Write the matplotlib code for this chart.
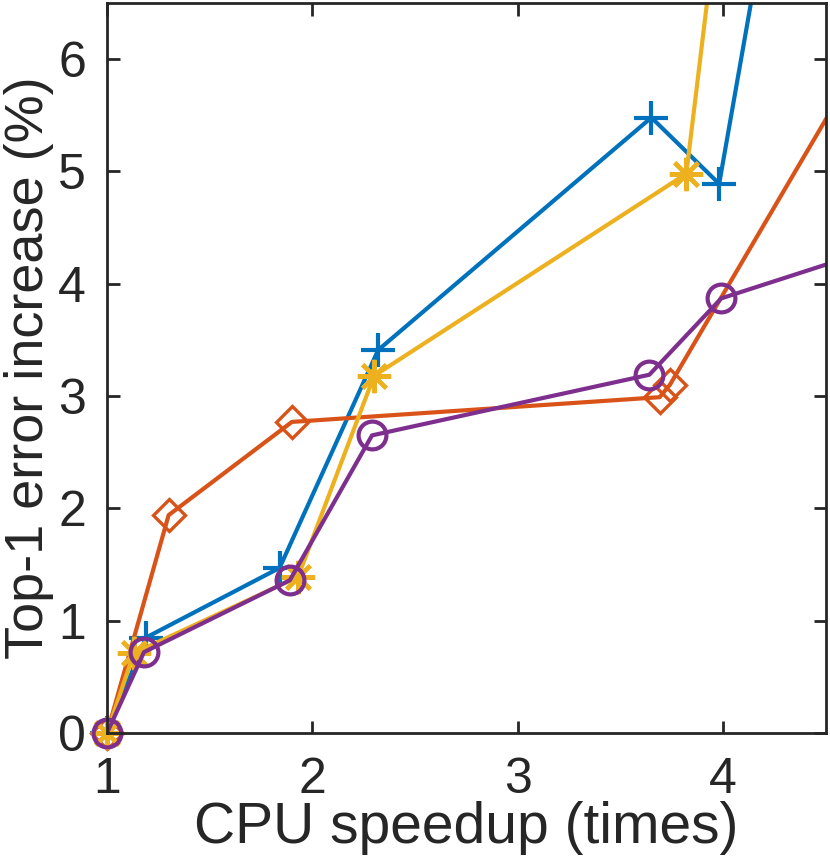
import matplotlib.pyplot as plt

plt.rcParams['font.family'] = ['Liberation Sans', 'DejaVu Sans']

# speedup (x) and top-1 error increase (y) per method
blue_x = [1.0, 1.19, 1.84, 2.32, 3.65, 3.98, 4.25]
blue_y = [0.0, 0.85, 1.47, 3.41, 5.48, 4.89, 7.7]

orange_x = [1.0, 1.30, 1.90, 3.69, 3.74, 4.62]
orange_y = [0.0, 1.94, 2.77, 2.99, 3.10, 5.84]

yellow_x = [1.0, 1.13, 1.93, 2.30, 3.82, 4.0]
yellow_y = [0.0, 0.71, 1.39, 3.18, 4.98, 7.7]

purple_x = [1.0, 1.18, 1.89, 2.29, 3.64, 3.99, 4.6]
purple_y = [0.0, 0.72, 1.36, 2.65, 3.19, 3.87, 4.23]

x_ticks = [1, 2, 3, 4]
y_ticks = [0, 1, 2, 3, 4, 5, 6]

xlim = (1, 4.5)
ylim = (0, 6.5)

fig = plt.figure(figsize=(8.3, 8.59), dpi=100)
ax = fig.add_axes([107 / 830, 126 / 859, 719 / 830, 730 / 859])

lw = 3


def draw(xs, ys, color, **mk):
    # line is clipped by the axes, markers are not (like matlab)
    ax.plot(xs, ys, color=color, lw=lw)
    inside = [(x, y) for x, y in zip(xs, ys)
              if xlim[0] <= x <= xlim[1] and ylim[0] <= y <= ylim[1]]
    ax.plot([p[0] for p in inside], [p[1] for p in inside], ls='none',
            color=color, clip_on=False, **mk)


draw(blue_x, blue_y, '#0072BD', marker='+', ms=24, mew=lw)
draw(orange_x, orange_y, '#D95319', marker='D', ms=16, mew=lw * 0.8, mfc='none')
draw(yellow_x, yellow_y, '#EDB120', marker=(8, 2, 0), ms=24, mew=lw)
draw(purple_x, purple_y, '#7E2F8E', marker='o', ms=20, mew=lw, mfc='none')

ax.set_xlim(*xlim)
ax.set_ylim(*ylim)
ax.set_xticks(x_ticks)
ax.set_yticks(y_ticks)

dark = '#262626'
for s in ax.spines.values():
    s.set_linewidth(2)
    s.set_color(dark)
ax.tick_params(direction='in', length=9, width=2, colors=dark, labelsize=36,
               top=True, right=True, labeltop=False, labelright=False)
ax.tick_params(axis='x', pad=17)
ax.tick_params(axis='y', pad=15)
ax.set_xlabel('CPU speedup (times)', fontsize=41, color=dark, labelpad=-1)
ax.set_ylabel('Top-1 error increase (%)', fontsize=39, color=dark, labelpad=3)

fig.savefig('out.png', dpi=100)
